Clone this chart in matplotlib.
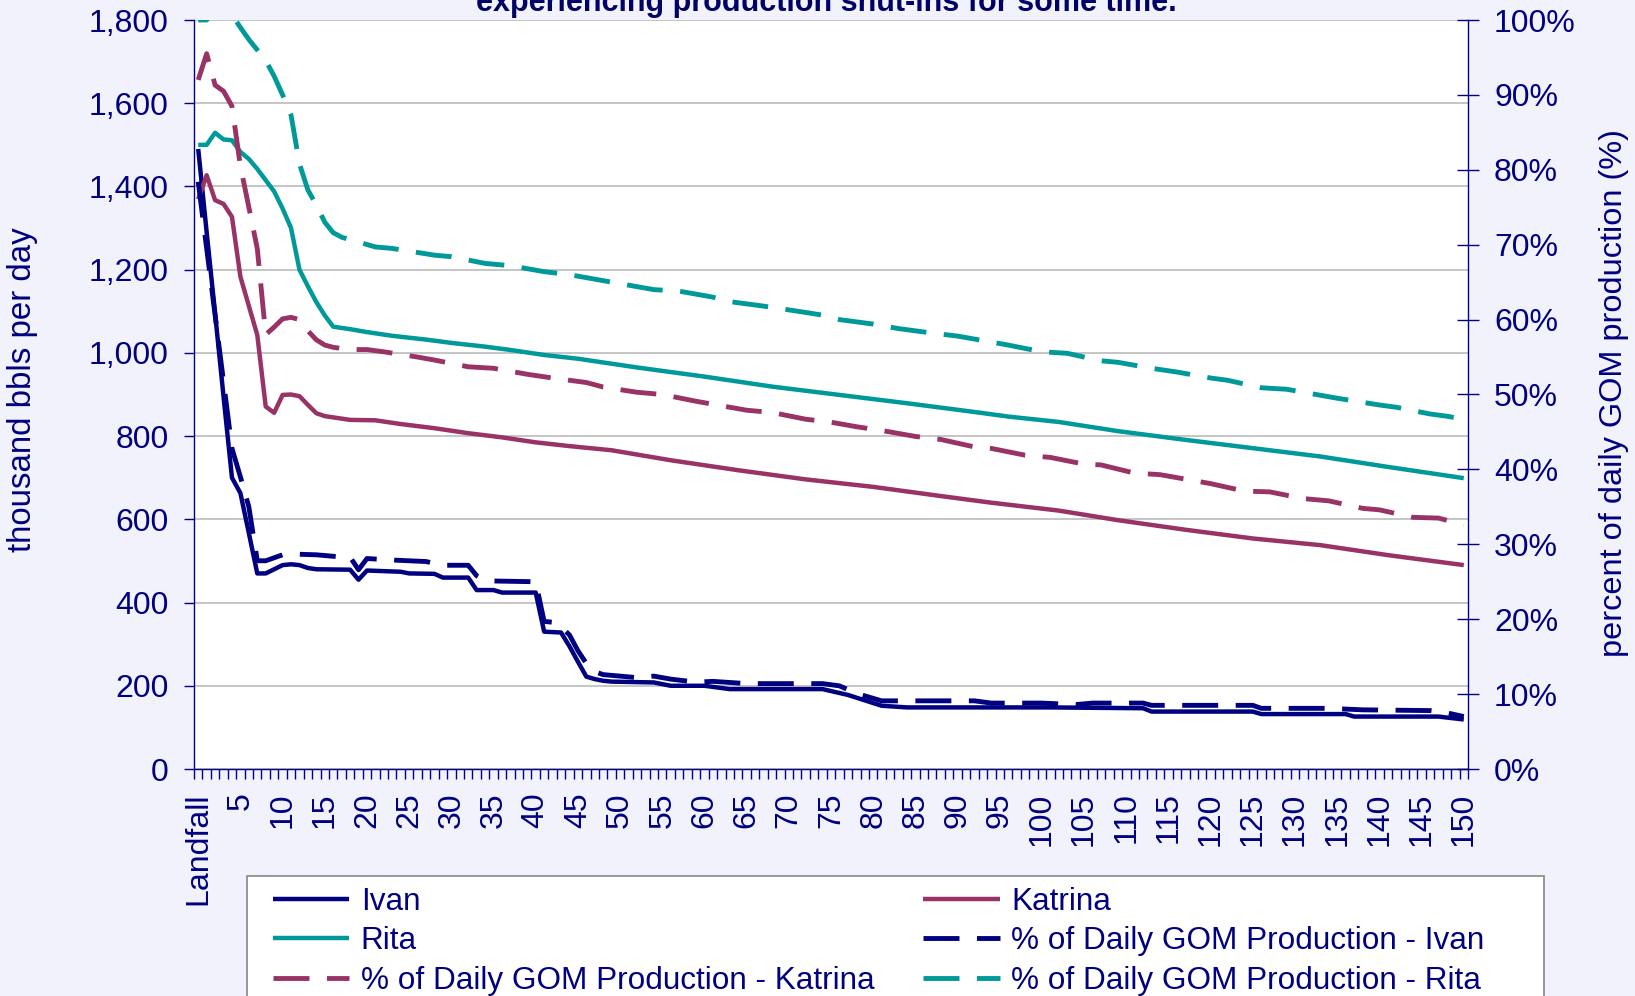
import numpy as np
import matplotlib.pyplot as plt
from matplotlib.patches import Rectangle
from matplotlib.ticker import FixedLocator, FuncFormatter

plt.rcParams['font.family'] = ['Liberation Sans', 'DejaVu Sans']

NAVY = '#000080'
PLUM = '#993366'
TEAL = '#009999'
BG = '#F2F2FD'

# days after landfall and shut-in volumes (thousand bbls/day)
ivan_days = [0, 1, 2, 3, 4, 5, 6, 7, 8, 9, 10, 11, 12, 13, 14, 18, 19, 20, 24, 25,
             28, 29, 32, 33, 35, 36, 40, 41, 43, 44, 45, 46, 47, 48, 49, 54, 56, 60,
             63, 74, 77, 81, 84, 101, 112, 113, 125, 126, 136, 137, 147, 150]
ivan_kbd = [1490, 1290, 1095, 895, 700, 663, 567, 470, 470, 480, 490, 492, 490, 483,
            480, 479, 455, 477, 474, 470, 469, 460, 460, 430, 430, 424, 424, 330, 328,
            295, 258, 222, 216, 212, 210, 208, 200, 200, 192, 192, 178, 152, 148, 148,
            146, 138, 138, 132, 132, 126, 126, 119]

katrina_days = [0, 1, 2, 3, 4, 5, 6, 7, 8, 9, 10, 11, 12, 13, 14, 15, 16, 18, 21, 24,
                28, 32, 36, 40, 44, 49, 56, 64, 72, 80, 88, 94, 102, 109, 117, 125,
                133, 141, 150]
katrina_kbd = [1369, 1427, 1367, 1358, 1327, 1183, 1113, 1043, 871, 856, 899, 900, 896,
               875, 855, 848, 845, 839, 838, 829, 819, 807, 797, 785, 776, 766, 742,
               718, 696, 678, 656, 640, 621, 598, 575, 554, 538, 514, 490]

rita_days = [0, 1, 2, 3, 4, 5, 6, 7, 8, 9, 10, 11, 12, 13, 14, 15, 16, 17, 18, 20, 23,
             27, 30, 34, 37, 41, 45, 52, 60, 68, 76, 84, 92, 96, 102, 109, 117, 125,
             133, 141, 150]
rita_kbd = [1500, 1500, 1529, 1513, 1511, 1483, 1466, 1442, 1415, 1388, 1347, 1300,
            1200, 1160, 1122, 1090, 1063, 1060, 1057, 1050, 1041, 1032, 1024, 1015,
            1007, 995, 986, 965, 943, 919, 899, 879, 858, 847, 834, 812, 791, 771,
            751, 726, 699]

# share of daily GOM production shut in (%)
ivan_pct_days = [0, 1, 2, 3, 4, 5, 6, 7, 8, 9, 10, 11, 14, 17, 18, 19, 20, 23, 27, 29,
                 32, 33, 34, 35, 40, 41, 42, 43, 44, 45, 46, 47, 48, 52, 54, 56, 59,
                 61, 65, 74, 76, 78, 81, 92, 94, 100, 104, 106, 112, 113, 125, 126,
                 134, 138, 146, 148, 150]
ivan_pct = [78.4, 69.5, 60.6, 51.7, 42.8, 39.0, 35.0, 27.8, 27.8, 28.2, 28.6, 28.7,
            28.6, 28.3, 28.3, 26.6, 28.1, 27.9, 27.7, 27.2, 27.2, 25.8, 25.2, 25.1,
            25.0, 19.7, 19.6, 19.0, 17.9, 15.8, 14.1, 13.0, 12.6, 12.2, 12.4, 12.0,
            11.6, 11.7, 11.4, 11.4, 11.1, 10.1, 9.1, 9.1, 8.8, 8.8, 8.6, 8.8, 8.8,
            8.5, 8.5, 8.1, 8.1, 7.9, 7.8, 7.5, 7.0]

katrina_pct_days = [0, 1, 2, 3, 4, 5, 6, 7, 8, 9, 10, 11, 12, 13, 14, 15, 16, 18, 20,
                    22, 26, 28, 32, 35, 39, 42, 46, 48, 52, 55, 59, 61, 65, 68, 72, 75,
                    78, 81, 85, 88, 92, 94, 98, 101, 105, 107, 111, 114, 118, 120, 124,
                    127, 131, 134, 138, 140, 144, 147, 150]
katrina_pct = [92.0, 95.5, 91.3, 90.5, 88.5, 80.5, 75.0, 69.5, 58.0, 59.0, 60.1, 60.3,
               60.0, 58.5, 57.3, 56.6, 56.3, 56.0, 56.0, 55.7, 55.0, 54.6, 53.7, 53.5,
               52.7, 52.2, 51.6, 51.0, 50.3, 50.0, 49.1, 48.7, 47.9, 47.6, 46.7, 46.3,
               45.7, 45.2, 44.4, 44.0, 43.0, 42.8, 41.9, 41.6, 40.7, 40.6, 39.5, 39.3,
               38.5, 38.1, 37.1, 37.0, 36.1, 35.8, 34.8, 34.6, 33.6, 33.5, 32.6]

rita_pct_days = [0, 1, 2, 3, 4, 5, 6, 7, 8, 9, 10, 11, 12, 13, 14, 15, 16, 17, 21, 23,
                 28, 30, 34, 37, 41, 44, 48, 50, 54, 57, 61, 63, 67, 70, 74, 76, 80,
                 83, 87, 90, 94, 96, 100, 103, 107, 109, 113, 116, 120, 122, 126, 129,
                 133, 135, 140, 142, 146, 148, 150]
rita_pct = [100.0, 100.0, 101.9, 100.9, 100.7, 99.0, 97.4, 96.0, 94.6, 92.5, 90.0,
            87.3, 80.8, 77.3, 75.3, 73.0, 71.6, 71.0, 69.7, 69.5, 68.6, 68.4, 67.5,
            67.2, 66.4, 66.0, 65.2, 64.8, 64.0, 63.8, 63.0, 62.4, 61.8, 61.3, 60.6,
            60.0, 59.4, 58.8, 58.2, 57.8, 57.0, 56.6, 55.7, 55.5, 54.5, 54.3, 53.5,
            53.0, 52.2, 51.9, 50.9, 50.7, 49.9, 49.5, 48.6, 48.3, 47.4, 47.1, 46.7]

x_labels = ['Landfall'] + [str(d) for d in range(5, 151, 5)]

W, H = 1635, 996
fig = plt.figure(figsize=(W / 100, H / 100), dpi=100, facecolor=BG)
ax = fig.add_axes([194 / W, 1 - 769 / H, 1274 / W, 749 / H])
ax.set_facecolor('white')
ax2 = ax.twinx()

solid = dict(lw=3.2, solid_joinstyle='round', solid_capstyle='butt')
dashed = dict(lw=3.5, dashes=(7.4, 3.6), dash_joinstyle='round', dash_capstyle='butt')

l_ivan, = ax.plot(ivan_days, ivan_kbd, color=NAVY, **solid)
l_kat, = ax.plot(katrina_days, katrina_kbd, color=PLUM, **solid)
l_rita, = ax.plot(rita_days, rita_kbd, color=TEAL, **solid)
d_ivan, = ax2.plot(ivan_pct_days, ivan_pct, color=NAVY, **dashed)
d_kat, = ax2.plot(katrina_pct_days, katrina_pct, color=PLUM, **dashed)
d_rita, = ax2.plot(rita_pct_days, rita_pct, color=TEAL, **dashed)

ax.set_xlim(-0.5, 150.5)
ax.set_ylim(0, 1800)
ax2.set_ylim(0, 100)

# category labels every 5 days, tick marks at every category boundary
ax.xaxis.set_major_locator(FixedLocator(list(range(0, 151, 5))))
ax.set_xticklabels(x_labels, rotation=90)
ax.xaxis.set_minor_locator(FixedLocator(np.arange(-0.5, 151, 1)))
ax.tick_params(axis='x', which='major', length=0, pad=17, labelsize=23, labelcolor=NAVY)
ax.tick_params(axis='x', which='minor', length=7.2, width=1.0, color=NAVY, direction='out')

ax.set_yticks(range(0, 1801, 200))
ax.yaxis.set_major_formatter(FuncFormatter(lambda v, p: f'{v:,.0f}'))
ax.tick_params(axis='y', length=7.2, width=1.0, color=NAVY, direction='out', pad=11,
               labelsize=23, labelcolor=NAVY)

ax2.set_yticks(range(0, 101, 10))
ax2.yaxis.set_major_formatter(FuncFormatter(lambda v, p: f'{v:.0f}%'))
ax2.tick_params(axis='y', length=15.5, width=1.0, color=NAVY, direction='inout', pad=11,
                labelsize=23, labelcolor=NAVY)

ax.yaxis.grid(True, color='#C0C0C0', lw=1.3)
ax.set_axisbelow(True)

for s in ['top', 'right']:
    ax.spines[s].set_visible(False)
for s in ['left', 'bottom']:
    ax.spines[s].set_color(NAVY)
    ax.spines[s].set_linewidth(1.0)
for s in ['top', 'left', 'bottom']:
    ax2.spines[s].set_visible(False)
ax2.spines['right'].set_color(NAVY)
ax2.spines['right'].set_linewidth(1.0)

fig.text(23 / W, 1 - 390 / H, 'thousand bbls per day', rotation=90, ha='center',
         va='center', fontsize=23.8, color=NAVY)
fig.text(1614 / W, 1 - 393 / H, 'percent of daily GOM production (%)', rotation=90,
         ha='center', va='center', fontsize=23.4, color=NAVY)
fig.text(826 / W, 1 - 11.5 / H, 'experiencing production shut-ins for some time.',
         ha='center', va='baseline', fontsize=22, fontweight='bold', color='#000066')

# legend box runs off the bottom edge
box = Rectangle((247 / W, -0.05), (1544 - 247) / W, 0.05 + 1 - 876 / H,
                transform=fig.transFigure, facecolor='white', edgecolor='#909090',
                lw=1.3, zorder=1)
fig.add_artist(box)

handles = [l_ivan, l_rita, d_kat, l_kat, d_ivan, d_rita]
labels = ['Ivan', 'Rita', '% of Daily GOM Production - Katrina',
          'Katrina', '% of Daily GOM Production - Ivan', '% of Daily GOM Production - Rita']
leg = fig.legend(handles, labels, ncol=2, loc='upper left',
                 bbox_to_anchor=(273 / W, 1 - 887 / H), frameon=False, fontsize=22.7,
                 labelcolor=NAVY, handlelength=2.42, handletextpad=0.36,
                 columnspacing=1.56, borderpad=0, borderaxespad=0, labelspacing=0.3)
leg.set_zorder(5)

fig.savefig('out.png', dpi=100, facecolor=BG)
